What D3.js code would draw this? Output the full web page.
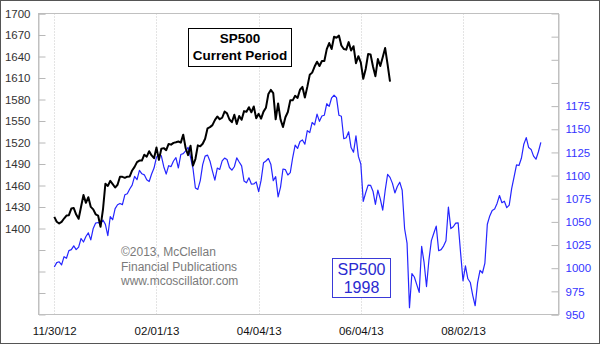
<!DOCTYPE html>
<html>
<head>
<meta charset="utf-8">
<script src="https://cdn.jsdelivr.net/npm/d3@7"></script>
<style>
  html, body { margin: 0; padding: 0; background: #fff; }
  svg { display: block; font-family: "Liberation Sans", Arial, sans-serif; }
</style>
</head>
<body>
<svg id="chart" width="600" height="344"></svg>
<script>
// ---- Data ----
// X axis: trading-day index; tick labels every 42 trading days
const xTickIndex = [0, 42, 84, 126, 168];
const xTickLabels = ["11/30/12", "02/01/13", "04/04/13", "06/04/13", "08/02/13"];

// Left axis ticks (SP500 current period)
const leftTicks = [1310, 1340, 1370, 1400, 1430, 1460, 1490, 1520, 1550, 1580, 1610, 1640, 1670, 1700];
const leftLabels = ["", "", "", "1400", "1430", "1460", "1490", "1520", "1550", "1580", "1610", "1640", "1670", "1700"];
// Right axis ticks (SP500 1998)
const rightTicks = [950, 975, 1000, 1025, 1050, 1075, 1100, 1125, 1150, 1175, 1200, 1225, 1250];
const rightLabels = ["950", "975", "1000", "1025", "1050", "1075", "1100", "1125", "1150", "1175", "", "", ""];

// SP500 current period, daily closes from 11/30/12 (index 0)
const sp500Current = [
  1416.18, 1409.46, 1407.05, 1409.28, 1413.94, 1418.07, 1418.55, 1427.84, 1428.48, 1419.45,
  1413.58, 1430.36, 1446.79, 1435.81, 1443.69, 1430.15, 1426.66, 1419.83, 1418.10, 1402.43,
  1426.19,
  1462.42, 1459.37, 1466.47, 1461.89, 1457.15, 1461.02, 1472.12, 1472.05, 1470.68, 1472.34,
  1472.63, 1480.94, 1485.98, 1492.56, 1494.81, 1494.82, 1502.96, 1500.18, 1507.84, 1501.96,
  1498.11,
  1513.17, 1495.71, 1511.29, 1512.12, 1509.39, 1517.93, 1517.01, 1519.43, 1520.33, 1521.38,
  1519.79, 1530.94, 1511.95, 1502.42, 1515.60, 1487.85, 1496.94, 1515.99, 1514.68,
  1518.20, 1525.20, 1539.79, 1541.46, 1544.26, 1551.18, 1556.22, 1552.48, 1554.52, 1563.23,
  1560.70, 1552.10, 1548.34, 1558.71, 1545.80, 1556.89, 1551.69, 1563.77, 1562.85, 1569.19,
  1562.17, 1570.25, 1553.69, 1559.98, 1553.28, 1563.07, 1568.61, 1587.73, 1593.37, 1588.85,
  1552.36, 1574.57, 1552.01, 1541.61, 1555.25, 1562.50, 1578.78, 1578.79, 1585.16, 1582.24,
  1593.61, 1597.57,
  1582.70, 1597.59, 1614.42, 1617.50, 1625.96, 1632.69, 1626.67, 1633.70, 1633.77, 1650.34,
  1658.78, 1650.47, 1667.47, 1666.29, 1669.16, 1655.35, 1650.51, 1649.60, 1660.06, 1648.36,
  1654.41, 1630.74,
  1640.42, 1631.38, 1608.90, 1622.56, 1643.38, 1642.81, 1626.13, 1612.52, 1636.36, 1626.73,
  1639.04, 1651.81, 1628.93, 1605.00
];

// SP500 1998, daily closes from 02/02/98 (aligned to index 0)
const sp500_1998 = [
  1001.27, 1006.00, 1006.90, 1003.54, 1012.46, 1010.74, 1019.01, 1020.01, 1024.14, 1020.09,
  1022.76, 1032.08, 1028.28, 1034.21, 1038.14, 1030.56, 1042.90, 1048.67, 1049.34,
  1047.70, 1052.02, 1047.33, 1035.05, 1055.69, 1052.31, 1064.25, 1068.47, 1069.92, 1068.61,
  1079.27, 1080.45, 1085.52, 1089.74, 1099.16, 1095.55, 1105.65, 1101.93, 1100.80, 1095.44,
  1093.60, 1101.75,
  1108.15, 1120.01, 1122.70, 1121.38, 1109.55, 1101.65, 1110.67, 1109.69, 1115.75, 1119.32,
  1108.17, 1122.72, 1123.65, 1126.67, 1130.54, 1119.58, 1107.90, 1086.54, 1085.11, 1094.63,
  1111.75,
  1121.00, 1122.07, 1115.50, 1104.92, 1095.14, 1108.14, 1106.64, 1115.79, 1118.86, 1117.37,
  1108.73, 1105.82, 1109.52, 1119.06, 1114.64, 1110.47, 1094.02, 1092.23, 1097.60, 1090.82,
  1090.98, 1093.22, 1082.73, 1094.83, 1113.86, 1115.72, 1118.41, 1112.28, 1094.58, 1098.84,
  1077.01, 1087.59, 1107.11, 1106.37, 1100.65, 1103.21, 1119.49, 1132.88, 1129.28, 1136.76,
  1138.49, 1133.84,
  1148.56, 1146.42, 1157.33, 1154.66, 1166.38, 1158.56, 1164.33, 1165.19, 1177.58, 1174.81,
  1183.99, 1186.75, 1184.10, 1165.07, 1164.08, 1139.75, 1140.80, 1147.27, 1130.24, 1125.21,
  1142.95, 1120.67,
  1112.44, 1072.12, 1081.43, 1089.63, 1089.45, 1083.14, 1068.98, 1084.22, 1074.91, 1062.75,
  1083.67, 1101.20, 1098.06, 1091.60, 1081.24, 1088.14, 1092.85, 1084.19, 1042.59, 1027.14,
  957.28,
  994.26, 990.48, 982.26, 973.89, 1023.46, 1006.20, 980.19, 1009.06, 1029.72, 1037.68,
  1045.48, 1018.87, 1020.09, 1023.89, 1029.63, 1066.09, 1042.72, 1044.75, 1048.69, 1049.02,
  1017.01,
  986.39, 1002.60, 988.56, 984.59, 970.68, 959.44, 984.39, 997.71, 994.80, 1005.53,
  1047.49, 1056.42, 1062.39, 1063.93, 1069.92, 1078.48, 1070.67, 1072.32, 1065.34, 1068.09,
  1085.93, 1098.67,
  1111.60, 1110.84, 1118.67, 1133.85, 1141.01, 1130.20, 1128.26, 1120.97, 1117.69, 1125.72,
  1135.87
];

const copyrightLines = ["\u00A92013, McClellan", "Financial Publications", "www.mcoscillator.com"];
const titleCurrent = ["SP500", "Current Period"];
const title1998 = ["SP500", "1998"];

// ---- Layout ----
const W = 600, H = 344;
const plot = { left: 38.5, right: 558.5, top: 13.5, bottom: 314.5 };

const svg = d3.select("#chart");

// Outer border
svg.append("rect").attr("x", 0.5).attr("y", 0.5).attr("width", W - 1).attr("height", H - 1)
  .attr("fill", "#fff").attr("stroke", "#555");

// Scales
const x = d3.scaleLinear().domain([0, 168]).range([54.3, 463]);
const yL = d3.scaleLinear().domain([1280, 1700]).range([plot.bottom, plot.top]);
const yR = d3.scaleLinear().domain([950, 1275]).range([plot.bottom, plot.top]);

// Gridlines (vertical, dotted)
svg.append("g").selectAll("line").data(xTickIndex).join("line")
  .attr("x1", d => Math.round(x(d)) + 0.5).attr("x2", d => Math.round(x(d)) + 0.5)
  .attr("y1", plot.top).attr("y2", plot.bottom)
  .attr("stroke", "#c8c8c8").attr("stroke-dasharray", "1,2");

// Plot frame
svg.append("rect").attr("x", plot.left).attr("y", plot.top)
  .attr("width", plot.right - plot.left).attr("height", plot.bottom - plot.top)
  .attr("fill", "none").attr("stroke", "#c0c0c0");

// Left axis
const leftAxis = d3.axisLeft(yL).tickValues(leftTicks)
  .tickFormat((d, i) => leftLabels[i]).tickSize(-7).tickPadding(8);
const gL = svg.append("g").attr("transform", `translate(${plot.left},0)`).call(leftAxis);
gL.select(".domain").attr("stroke", "#c0c0c0");
gL.selectAll(".tick line").attr("stroke", "#b8b8b8");
gL.selectAll(".tick text").attr("fill", "#333").style("font-size", "11.5px")
  .style("font-family", '"Liberation Sans", Arial, sans-serif');

// Right axis
const rightAxis = d3.axisRight(yR).tickValues(rightTicks)
  .tickFormat((d, i) => rightLabels[i]).tickSize(-7).tickPadding(7);
const gR = svg.append("g").attr("transform", `translate(${plot.right},0)`).call(rightAxis);
gR.select(".domain").attr("stroke", "#c0c0c0");
gR.selectAll(".tick line").attr("stroke", "#b8b8b8");
gR.selectAll(".tick text").attr("fill", "#3434ff").style("font-size", "11.5px")
  .style("font-family", '"Liberation Sans", Arial, sans-serif');

// Bottom axis (labels only)
const bottomAxis = d3.axisBottom(x).tickValues(xTickIndex)
  .tickFormat((d, i) => xTickLabels[i]).tickSize(0).tickPadding(12);
const gB = svg.append("g").attr("transform", `translate(0,${plot.bottom})`).call(bottomAxis);
gB.select(".domain").remove();
gB.selectAll(".tick text").attr("fill", "#111").style("font-size", "11.5px")
  .style("font-family", '"Liberation Sans", Arial, sans-serif');

// Lines
const line1998 = d3.line().x((d, i) => x(i)).y(d => yR(d));
const lineCur = d3.line().x((d, i) => x(i)).y(d => yL(d));

svg.append("path").datum(sp500_1998).attr("d", line1998)
  .attr("fill", "none").attr("stroke", "#2525ff").attr("stroke-width", 1.2)
  .attr("stroke-linejoin", "round");

svg.append("path").datum(sp500Current).attr("d", lineCur)
  .attr("fill", "none").attr("stroke", "#000").attr("stroke-width", 2)
  .attr("stroke-linejoin", "round");

// Title box: current period
svg.append("rect").attr("x", 188.5).attr("y", 28.5).attr("width", 103).attr("height", 38)
  .attr("fill", "#fff").attr("stroke", "#000");
svg.append("g").selectAll("text").data(titleCurrent).join("text")
  .attr("x", 240).attr("y", (d, i) => 43 + i * 16.5)
  .attr("text-anchor", "middle").attr("font-weight", "bold").attr("font-size", "13.5px")
  .attr("fill", "#000").text(d => d);

// Title box: 1998
svg.append("rect").attr("x", 332.5).attr("y", 258.5).attr("width", 58).attr("height", 39)
  .attr("fill", "#fff").attr("stroke", "#3a3ad8");
svg.append("g").selectAll("text").data(title1998).join("text")
  .attr("x", 361.5).attr("y", (d, i) => 275 + i * 18)
  .attr("text-anchor", "middle").attr("font-size", "16px")
  .attr("fill", "#2a2ad0").text(d => d);

// Copyright
svg.append("g").selectAll("text").data(copyrightLines).join("text")
  .attr("x", 121).attr("y", (d, i) => 256 + i * 14.5)
  .attr("font-size", "12px").attr("fill", "#7a7a7a").text(d => d);
</script>
</body>
</html>
